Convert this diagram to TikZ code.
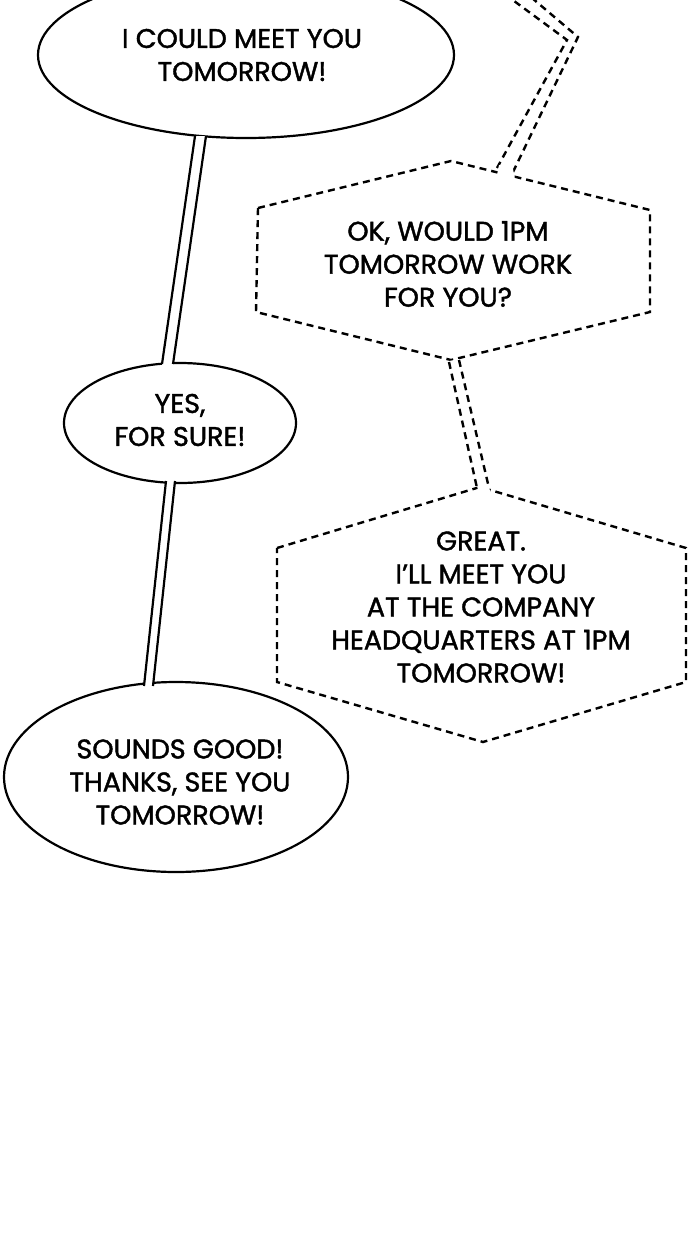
\documentclass[tikz,border=0pt]{standalone}
\usepackage{fontspec}
\setmainfont{Poppins}
\usetikzlibrary{shapes.geometric}
\begin{document}
\begin{tikzpicture}[x=1pt,y=-1pt,
  bub/.style={draw,line width=2.2pt,fill=white},
  dsh/.style={draw,line width=2.4pt,dash pattern=on 7pt off 5pt,fill=white},
  txt/.style={align=center,font=\fontsize{27}{33}\selectfont\addfontfeature{FakeBold=1.5}}]
\useasboundingbox[fill=white] (0,0) rectangle (700,1240);
\begin{scope}
\clip (0,0) rectangle (700,1240);
\draw[dsh,fill=none] (497,168) -- (567,40) -- (510,-2);
\draw[dsh,fill=none] (513,172) -- (578,37) -- (532,-2);
\draw[dsh] (258,208) -- (451,161) -- (650,210) -- (650,312) -- (451,360) -- (256,312) -- cycle;
\fill[white] (499,165) -- (513,169) -- (515,180) -- (496,180) -- cycle;
\fill[white] (449,361) -- (459,359) -- (489,488) -- (477,488) -- cycle;
\draw[dsh] (277,548) -- (480,487) -- (686,548) -- (686,682) -- (483,742) -- (277,682) -- cycle;
\fill[white] (478,492) -- (490,492) -- (489,484) -- (477,484) -- cycle;
\draw[dsh,fill=none] (449,362) -- (477,488);
\draw[dsh,fill=none] (459,360) -- (489,488);
\node[bub,ellipse,minimum width=416pt,minimum height=166pt] (e1) at (246,55) {};
\node[bub,ellipse,minimum width=232pt,minimum height=120pt] (e2) at (180,423) {};
\node[bub,ellipse,minimum width=344pt,minimum height=190pt] (e3) at (176,777) {};
\fill[white] (195,136) -- (206,136) -- (173,365) -- (162,365) -- cycle;
\draw[line width=2.2pt] (195,136) -- (162,364) (206,136) -- (173,364);
\fill[white] (166,481) -- (175,481) -- (153,686) -- (144,686) -- cycle;
\draw[line width=2.2pt] (166,481) -- (144,686) (175,481) -- (153,686);
\end{scope}
\node[txt] (t1) at (242,55) {I COULD MEET YOU\\TOMORROW!};
\node[txt] (t2) at (180,420) {YES,\\FOR SURE!};
\node[txt] (t3) at (180,782) {SOUNDS GOOD!\\THANKS, SEE YOU\\TOMORROW!};
\node[txt] (t4) at (448,264) {OK, WOULD 1PM\\TOMORROW WORK\\FOR YOU?};
\node[txt] (t5) at (481,607) {GREAT.\\I'LL MEET YOU\\AT THE COMPANY\\HEADQUARTERS AT 1PM\\TOMORROW!};
\end{tikzpicture}
\end{document}
